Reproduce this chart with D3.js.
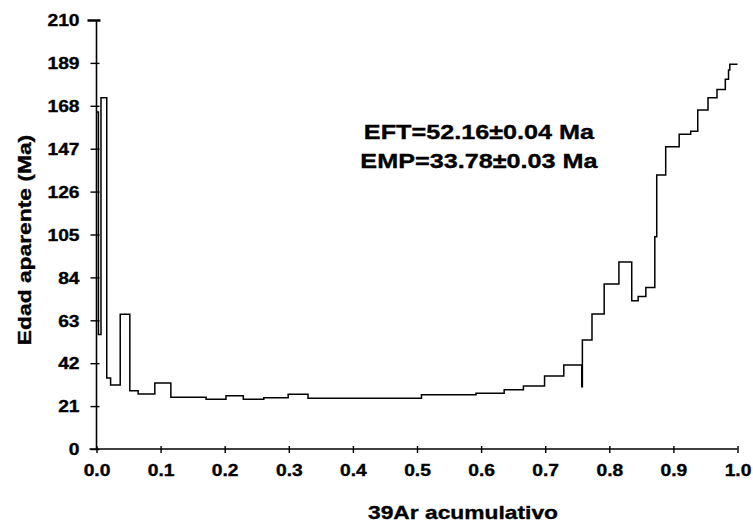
<!DOCTYPE html>
<html>
<head>
<meta charset="utf-8">
<script src="https://cdn.jsdelivr.net/npm/d3@7"></script>
<style>
  body { margin: 0; background: #fff; }
  svg text { font-family: "Liberation Sans", Arial, sans-serif; font-weight: bold; fill: #000; stroke: #000; stroke-width: 0.35px; }
</style>
</head>
<body>
<svg id="chart" width="753" height="526"></svg>
<script>
// right edge of each step (cumulative 39Ar fraction)
var stepEnd = [0.003, 0.007, 0.016, 0.022, 0.037, 0.052, 0.065, 0.091, 0.116, 0.171,
               0.202, 0.229, 0.261, 0.299, 0.330, 0.507, 0.592, 0.636, 0.666, 0.699,
               0.729, 0.757, 0.758, 0.773, 0.792, 0.815, 0.835, 0.845, 0.857, 0.871,
               0.874, 0.888, 0.909, 0.927, 0.938, 0.954, 0.968, 0.981, 0.986, 0.988, 1.0];
// apparent age of each step (Ma)
var stepAge = [165, 56, 172, 34.7, 31.3, 66, 28.5, 26.9, 32.3, 25.3,
               24.3, 26.1, 24.3, 25.1, 26.8, 24.9, 26.6, 27.3, 29.0, 30.8,
               35.7, 41.1, 30.5, 53.4, 66.1, 80.8, 91.5, 72.6, 74.6, 79.1,
               103.9, 134.1, 148, 154.1, 155.6, 165.9, 172, 176, 181, 185.5, 188.3];

var yTicks = [0, 21, 42, 63, 84, 105, 126, 147, 168, 189, 210];
var xTicks = [0, 0.1, 0.2, 0.3, 0.4, 0.5, 0.6, 0.7, 0.8, 0.9, 1.0];
var notes = ["EFT=52.16\u00b10.04 Ma", "EMP=33.78\u00b10.03 Ma"];

var svg = d3.select("#chart");
var stretch = 1.2; // the original lettering is wide

var x = d3.scaleLinear().domain([0, 1]).range([96.5, 737.5]);
var y = d3.scaleLinear().domain([0, 210]).range([449, 20]);

function widen(sel) {
  sel.each(function() {
    var w = this.getComputedTextLength();
    d3.select(this).attr("textLength", w * stretch).attr("lengthAdjust", "spacingAndGlyphs");
  });
}

// y axis
var gy = svg.append("g")
  .attr("transform", "translate(" + x(0) + ",0)")
  .call(d3.axisLeft(y).tickValues(yTicks).tickSize(6).tickPadding(11));
gy.select(".domain").attr("stroke", "#000").attr("stroke-width", 1.6)
  .attr("d", "M0," + y(210) + "V" + y(0));
gy.selectAll(".tick line").attr("x2", -6).attr("x1", 3).attr("stroke-width", 1.4);
gy.selectAll(".tick").filter(function(d) { return d === 210; })
  .select("line").attr("x1", 4).attr("x2", -9).attr("stroke-width", 2.5);
gy.selectAll(".tick text").style("font-size", "16px").attr("dy", "0.36em").call(widen);

// x axis
var gx = svg.append("g")
  .attr("transform", "translate(0," + y(0) + ")")
  .call(d3.axisBottom(x).tickValues(xTicks).tickFormat(d3.format(".1f")).tickSize(4).tickPadding(12));
gx.select(".domain").attr("stroke", "#000").attr("stroke-width", 1.6)
  .attr("d", "M" + (x(0) - 7) + ",0H" + x(1));
gx.selectAll(".tick line").attr("y1", -3).attr("y2", 4).attr("stroke-width", 1.4);
gx.selectAll(".tick text").style("font-size", "16px").call(widen);

// step spectrum
var pts = [];
for (var i = 0; i < stepAge.length; i++) {
  var start = i === 0 ? 0 : stepEnd[i - 1];
  pts.push([start, stepAge[i]]);
}
pts.push([stepEnd[stepEnd.length - 1], stepAge[stepAge.length - 1]]);

var line = d3.line()
  .x(function(d) { return x(d[0]); })
  .y(function(d) { return y(d[1]); })
  .curve(d3.curveStepAfter);

svg.append("path")
  .datum(pts)
  .attr("d", line)
  .attr("fill", "none")
  .attr("stroke", "#000")
  .attr("stroke-width", 1.5);

// axis titles
svg.append("text")
  .attr("x", 463).attr("y", 519)
  .attr("text-anchor", "middle")
  .style("font-size", "19px")
  .text("39Ar acumulativo")
  .call(widen);

svg.append("text")
  .attr("transform", "translate(31,240) rotate(-90)")
  .attr("text-anchor", "middle")
  .style("font-size", "19px")
  .text("Edad aparente (Ma)")
  .call(widen);

// annotations
svg.selectAll(".note")
  .data(notes)
  .enter().append("text")
  .attr("class", "note")
  .attr("x", 479).attr("y", function(d, i) { return 139 + i * 29; })
  .attr("text-anchor", "middle")
  .style("font-size", "21px")
  .text(function(d) { return d; })
  .call(widen);
</script>
</body>
</html>
